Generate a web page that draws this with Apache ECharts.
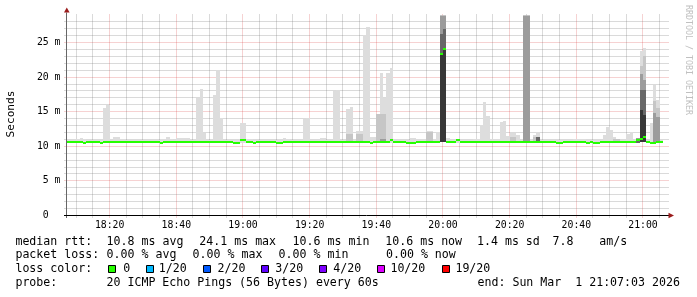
<!DOCTYPE html>
<html><head><meta charset="utf-8">
<script src="https://cdn.jsdelivr.net/npm/echarts@6/dist/echarts.min.js"></script>
<style>html,body{margin:0;padding:0;background:#fff}#c{width:697px;height:297px}</style>
</head><body><div id="c"></div>
<script>
// ---------------- data ----------------
const firstMinute = '18:07';           // first one-minute step shown (index 0)
const axisStart = '18:07:03';
const axisEnd   = '21:07:03';
const timeTicks = ['18:20','18:40','19:00','19:20','19:40','20:00','20:20','20:40','21:00'];
const yTickLabels = ['0  ','5 m','10 m','15 m','20 m','25 m'];
const yMaxMs = 28.9;

// median rtt (ms) per minute
const medianRtt = [
10.62,10.62,10.62,10.62,10.62,10.42,10.62,10.62,10.62,10.62,
10.42,10.62,10.62,10.62,10.62,10.62,10.62,10.62,10.62,10.62,
10.62,10.62,10.62,10.62,10.62,10.62,10.62,10.62,10.42,10.62,
10.62,10.62,10.62,10.62,10.62,10.62,10.62,10.62,10.62,10.62,
10.62,10.62,10.62,10.62,10.62,10.62,10.62,10.62,10.62,10.62,
10.42,10.42,10.85,10.85,10.62,10.62,10.42,10.62,10.62,10.62,
10.62,10.62,10.62,10.42,10.42,10.62,10.62,10.62,10.62,10.62,
10.62,10.62,10.62,10.62,10.62,10.62,10.62,10.62,10.62,10.62,
10.62,10.62,10.62,10.62,10.62,10.62,10.62,10.62,10.62,10.62,
10.62,10.42,10.62,10.62,10.62,10.62,10.62,10.85,10.62,10.62,
10.62,10.62,10.42,10.42,10.42,10.62,10.62,10.62,10.62,10.62,
10.62,10.62,23.3,24.1,10.62,10.62,10.62,10.85,10.62,10.62,
10.62,10.62,10.62,10.62,10.62,10.62,10.62,10.62,10.62,10.62,
10.62,10.62,10.62,10.62,10.62,10.62,10.62,10.62,10.62,10.62,
10.62,10.62,10.62,10.62,10.62,10.62,10.62,10.42,10.42,10.62,
10.62,10.62,10.62,10.62,10.62,10.62,10.42,10.62,10.42,10.42,
10.62,10.62,10.62,10.62,10.62,10.62,10.62,10.62,10.62,10.62,
10.62,10.85,11.1,11.35,10.62,10.42,10.42,10.62,10.62
];
// highest ping per minute (ms), outer light smoke
const pingMax = [
10.9,10.9,10.95,11.05,11.2,11.05,10.95,10.95,10.95,10.95,
10.95,15.55,16.0,10.95,11.35,11.35,11.05,11.05,10.95,10.95,
10.95,10.95,10.95,10.95,10.95,10.95,10.95,10.95,11.05,11.05,
11.35,11.05,10.95,11.2,11.2,11.2,11.2,10.95,10.95,17.0,
18.3,11.9,10.95,10.95,17.4,21.0,14.1,10.95,10.95,10.95,
10.95,10.95,13.4,13.4,11.05,11.05,10.95,10.95,10.95,10.95,
10.95,10.95,10.95,10.95,10.95,11.2,11.1,10.95,10.95,10.95,
10.95,13.9,14.1,10.95,10.95,10.95,11.2,11.2,10.95,10.95,
18.0,18.2,10.95,10.95,15.4,15.7,10.95,12.2,12.2,26.1,
27.3,11.4,11.4,14.7,20.6,17.0,20.6,21.3,10.95,10.95,
10.95,10.95,10.95,11.2,11.2,11.05,11.05,11.05,12.2,12.2,
11.05,12.0,29.5,29.5,11.2,10.95,10.95,10.95,10.95,10.95,
10.95,10.95,11.05,11.05,13.1,16.4,14.4,11.05,11.05,11.05,
13.5,13.6,11.5,11.9,11.9,11.6,10.95,29.5,29.5,10.95,
11.6,12.0,10.95,10.95,10.95,10.95,10.95,10.95,10.95,10.95,
10.95,10.95,11.05,11.05,11.05,11.05,10.95,10.95,10.95,10.95,
10.95,11.7,12.8,12.4,11.3,10.95,10.95,10.95,11.8,12.0,
10.95,11.2,23.7,24.2,10.95,13.3,18.9,16.7,10.95
];
// lowest ping per minute (ms)
const pingMin = [
10.5,10.5,10.5,10.5,10.5,10.5,10.5,10.5,10.5,10.5,
10.5,10.5,10.5,10.5,10.5,10.5,10.5,10.5,10.5,10.5,
10.5,10.5,10.5,10.5,10.5,10.5,10.5,10.5,10.5,10.5,
10.5,10.5,10.5,10.5,10.5,10.5,10.5,10.5,10.5,10.5,
10.5,10.5,10.5,10.5,10.5,10.5,10.5,10.5,10.5,10.5,
10.5,10.5,10.5,10.5,10.5,10.5,10.5,10.5,10.5,10.5,
10.5,10.5,10.5,10.5,10.5,10.5,10.5,10.5,10.5,10.5,
10.5,10.5,10.5,10.5,10.5,10.5,10.5,10.5,10.5,10.5,
10.5,10.5,10.5,10.5,10.5,10.5,10.5,10.5,10.5,10.5,
10.5,10.5,10.5,10.5,10.5,10.5,10.5,10.5,10.5,10.5,
10.5,10.5,10.5,10.5,10.5,10.5,10.5,10.5,10.5,10.5,
10.5,10.5,10.6,10.6,10.5,10.5,10.5,10.5,10.5,10.5,
10.5,10.5,10.5,10.5,10.5,10.5,10.5,10.5,10.5,10.5,
10.5,10.5,10.5,10.5,10.5,10.5,10.5,10.6,10.6,10.5,
10.5,10.5,10.5,10.5,10.5,10.5,10.5,10.5,10.5,10.5,
10.5,10.5,10.5,10.5,10.5,10.5,10.5,10.5,10.5,10.5,
10.5,10.5,10.5,10.5,10.5,10.5,10.5,10.5,10.5,10.5,
10.5,10.5,10.6,10.6,10.5,10.5,10.5,10.5,10.5
];
// inner (denser) smoke bands: [minute index, upper ping value ms]
const smokeBand2 = [[84,11.8],[85,11.8],[87,11.8],[88,11.8],[93,14.7],[94,14.7],[95,14.7],[108,12.0],[109,12.0],
  [133,11.4],[134,11.4],[140,11.4],[164,11.0],[165,11.0],[172,21.6],[173,23.0],[176,16.5],[177,15.5]];
const smokeBand3 = [[94,11.1],[95,11.1],[112,29.5],[113,29.5],[137,29.5],[138,29.5],[171,11.2],[172,20.5],[173,19.6],[176,14.8],[177,14.3]];
const smokeBand4 = [[112,26.2],[113,26.9],[141,11.35],[171,11.1],[172,18.2],[173,18.2]];
const smokeBand5 = [[112,23.3],[113,24.0],[172,15.3],[173,14.5]];

const lossLabels = ['0','1/20','2/20','3/20','4/20','10/20','19/20'];
const rttStats  = ['10.8 ms avg','24.1 ms max','10.6 ms min','10.6 ms now','1.4 ms sd','7.8','am/s'];
const lossStats = ['0.00 % avg','0.00 % max','0.00 % min','0.00 % now'];
const probeText = '20 ICMP Echo Pings (56 Bytes) every 60s';
const endText   = 'end: Sun Mar  1 21:07:03 2026';

// ---------------- styles / layout ----------------
const lossColors = ['#26ff00','#00b8ff','#0059ff','#5e00ff','#7e00ff','#dd00ff','#ff0000'];
const shades = ['#dddddd','#c6c6c6','#9c9c9c','#686868','#383838'];
const MONO = '"DejaVu Sans Mono", monospace';
const GRID_MINOR = 'rgba(120,120,120,0.55)';
const GRID_MAJOR = 'rgba(210,40,40,0.42)';

const toMin = s => { const p = s.split(':').map(Number); return p[0]*60 + p[1] + (p[2]||0)/60; };
const fmtHM = v => { const h = Math.floor(v/60), m = Math.round(v%60); return String(h).padStart(2,'0')+':'+String(m).padStart(2,'0'); };
const M0 = toMin(firstMinute), X0 = toMin(axisStart), X1 = toMin(axisEnd);

const fullData = arr => arr.map((v,k) => [M0+k, v, pingMin[k]]);
const bandData = arr => arr.map(([k,v]) => [M0+k, v, pingMin[k]]);

function smokeSeries(data, color, z) {
  return {
    type:'custom', silent:true, clip:true, z: z, data: data,
    renderItem: (p, api) => {
      const s = api.value(0), top = api.value(1), lo = api.value(2);
      const a = api.coord([s, lo]), b = api.coord([s+1, top]);
      const x0 = Math.round(a[0]), x1 = Math.round(b[0]);
      const y0 = Math.round(a[1]), y1 = Math.round(b[1]);
      return {type:'rect', shape:{x:x0, y:y1, width:x1-x0, height:y0-y1}, style:{fill:color}};
    }
  };
}

const gridMinutes = [];
for (let t = Math.ceil(X0/5)*5; t < X1; t += 5) gridMinutes.push([t, 0]);
const gridValues = [];
for (let v = 1; v <= Math.floor(yMaxMs); v++) gridValues.push([X0, v]);

const series = [
  { // vertical grid (under the smoke)
    type:'custom', silent:true, clip:false, z:1, data: gridMinutes,
    renderItem: (p, api) => {
      const t = api.value(0);
      const a = api.coord([t, 0]), b = api.coord([t, yMaxMs]);
      const x = Math.floor(a[0]-0.3)+0.5;
      const major = Math.round(t) % 20 === 0;
      return {type:'line', shape:{x1:x, y1:a[1]+2, x2:x, y2:b[1]-1},
        style:{stroke: major?GRID_MAJOR:GRID_MINOR, lineWidth:1, lineDash:[1,1]}};
    }
  },
  { // horizontal grid (under the smoke)
    type:'custom', silent:true, clip:false, z:1, data: gridValues,
    renderItem: (p, api) => {
      const v = api.value(1);
      const a = api.coord([X0, v]), b = api.coord([X1, v]);
      const y = Math.floor(a[1])+0.5;
      const major = v % 5 === 0;
      return {type:'line', shape:{x1:a[0]-2, y1:y, x2:b[0]+2.5, y2:y},
        style:{stroke: major?GRID_MAJOR:GRID_MINOR, lineWidth:1, lineDash:[1,1]}};
    }
  },
  smokeSeries(fullData(pingMax), shades[0], 2),
  smokeSeries(bandData(smokeBand2), shades[1], 3),
  smokeSeries(bandData(smokeBand3), shades[2], 4),
  smokeSeries(bandData(smokeBand4), shades[3], 5),
  smokeSeries(bandData(smokeBand5), shades[4], 6),
  { // median
    type:'custom', silent:true, clip:true, z:8,
    data: medianRtt.map((v,k) => [M0+k, v]),
    renderItem: (p, api) => {
      const s = api.value(0), v = api.value(1);
      const a = api.coord([s, v]), b = api.coord([s+1, v]);
      const x0 = Math.round(a[0]), x1 = Math.round(b[0]);
      const y0 = Math.round(a[1]-1);
      return {type:'rect', shape:{x:x0, y:y0, width:x1-x0, height:2}, style:{fill:lossColors[0]}};
    }
  }
];

// ---------------- text / legend graphics ----------------
const g = [];
const txt = (text, x, y, opts) => g.push(Object.assign({type:'text', silent:true, z:20,
  style:{text, x, y, font:'11.6px '+MONO, fill:'#000', align:'left', verticalAlign:'middle'}}, opts||{}));

txt('median rtt:', 15.4, 241.7);
const rttX = [106.6, 199.3, 292.6, 385.3, 477.0, 552.5, 599.2];
rttStats.forEach((s,i) => txt(s, rttX[i], 241.7));
txt('packet loss:', 15.4, 255.3);
const lossX = [106.6, 192.6, 278.6, 386.0];
lossStats.forEach((s,i) => txt(s, lossX[i], 255.3));
txt('loss color:', 15.4, 269.2);
const boxX = [108, 146, 203, 261, 319, 377, 442];
const labX = [123.3, 158.7, 217.5, 275.2, 333.2, 390.4, 455.4];
lossLabels.forEach((s,i) => {
  g.push({type:'rect', silent:true, z:20, shape:{x:boxX[i]+0.5, y:265.5, width:7, height:7},
    style:{fill:lossColors[i], stroke:'#000', lineWidth:1}});
  txt(s, labX[i], 269.2);
});
txt('probe:', 15.4, 283.0);
txt(probeText, 106.5, 283.0);
txt(endText, 477.5, 283.0);

// axis title & watermark
g.push({type:'text', silent:true, z:20, x:10.7, y:114, rotation:Math.PI/2,
  style:{text:'Seconds', font:'11.1px '+MONO, fill:'#000', align:'center', verticalAlign:'middle'}});
g.push({type:'text', silent:true, z:20, x:688.5, y:60, rotation:-Math.PI/2,
  style:{text:'RRDTOOL / TOBI OETIKER', font:'8.3px '+MONO, fill:'#c0c0c0', align:'center', verticalAlign:'middle'}});

// axis lines and arrows
g.push({type:'line', silent:true, z:21, shape:{x1:66.5, y1:218, x2:66.5, y2:12.5}, style:{stroke:'#666', lineWidth:1}});
g.push({type:'line', silent:true, z:21, shape:{x1:64, y1:215.5, x2:669, y2:215.5}, style:{stroke:'#000', lineWidth:1}});
g.push({type:'polygon', silent:true, z:22, shape:{points:[[66.8,7.5],[64,12.6],[69.6,12.6]]}, style:{fill:'#9b1c1c'}});
g.push({type:'polygon', silent:true, z:22, shape:{points:[[674,215.5],[668.5,212.8],[668.5,218.2]]}, style:{fill:'#9b1c1c'}});

const chart = echarts.init(document.getElementById('c'), null, {renderer:'canvas'});
chart.setOption({
  animation:false,
  backgroundColor:'#ffffff',
  grid:{left:66.5, top:15.5, width:600, height:200, outerBoundsMode:'none'},
  xAxis:{type:'value', min:X0, max:X1,
    axisLine:{show:false}, axisTick:{show:false}, splitLine:{show:false},
    axisLabel:{customValues: timeTicks.map(toMin), formatter: v => fmtHM(v),
      fontFamily:MONO, fontSize:9.8, color:'#000', margin:5}},
  yAxis:{type:'value', min:0, max:yMaxMs, interval:5,
    axisLine:{show:false}, axisTick:{show:false}, splitLine:{show:false},
    axisLabel:{formatter: v => (Math.abs(v % 5) < 1e-9 && v/5 < yTickLabels.length) ? yTickLabels[Math.round(v/5)] : '',
      fontFamily:MONO, fontSize:9.8, color:'#000', margin:6, showMaxLabel:false}},
  series: series,
  graphic: g
});
</script></body></html>
